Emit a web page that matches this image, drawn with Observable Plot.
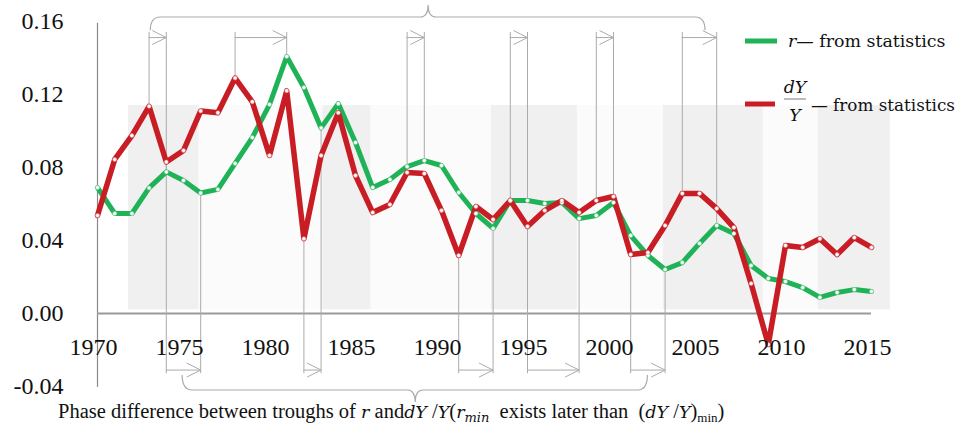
<!DOCTYPE html>
<html><head><meta charset="utf-8">
<script src="https://cdn.jsdelivr.net/npm/d3@7"></script>
<script src="https://cdn.jsdelivr.net/npm/@observablehq/plot@0.6"></script>
<style>
body{margin:0;background:#fff;}
#wrap{position:relative;width:975px;height:430px;overflow:hidden;background:#fff;}
#cap{position:absolute;left:58px;top:401px;font:20.5px/20px "Liberation Serif",serif;white-space:pre;color:#111;}
#cap .m{font-family:"DejaVu Serif",serif;font-style:italic;font-size:17.5px;}
#cap sub{font-size:13px;vertical-align:-4px;line-height:0;}
</style></head><body><div id="wrap"></div>
<script>
// ---- data ----
const years = [1970,1971,1972,1973,1974,1975,1976,1977,1978,1979,1980,1981,1982,1983,1984,1985,1986,1987,1988,1989,1990,1991,1992,1993,1994,1995,1996,1997,1998,1999,2000,2001,2002,2003,2004,2005,2006,2007,2008,2009,2010,2011,2012,2013,2014,2015];
const rValues = [0.0690,0.0548,0.0548,0.0688,0.0776,0.0729,0.0660,0.0680,0.0822,0.0964,0.1145,0.1408,0.1238,0.1017,0.1150,0.0937,0.0690,0.0734,0.0805,0.0838,0.0811,0.0663,0.0548,0.0466,0.0619,0.0619,0.0603,0.0608,0.0520,0.0537,0.0608,0.0427,0.0318,0.0241,0.0279,0.0384,0.0482,0.0438,0.0263,0.0192,0.0175,0.0142,0.0088,0.0115,0.0131,0.0121];
const dyValues = [0.0537,0.0844,0.0975,0.1135,0.0830,0.0893,0.1110,0.1100,0.1290,0.1160,0.0866,0.1220,0.0410,0.0866,0.1100,0.0756,0.0553,0.0597,0.0773,0.0767,0.0564,0.0318,0.0586,0.0515,0.0619,0.0477,0.0564,0.0619,0.0553,0.0619,0.0641,0.0323,0.0334,0.0482,0.0658,0.0658,0.0575,0.0471,0.0164,-0.0170,0.0373,0.0362,0.0410,0.0323,0.0416,0.0362];
const seriesNames = ["r", "dY/Y"];
const xTicks = [1970,1975,1980,1985,1990,1995,2000,2005,2010,2015];
const yTicks = [-0.04,0,0.04,0.08,0.12,0.16];
// peaks of dY/Y -> later peaks of r ; troughs of dY/Y -> later troughs of r
const peakFrom = [1973,1978,1988,1994,1999,2004];
const peakTo = [1974,1981,1989,1995,2000,2006];
const troughFrom = [1974,1982,1991,1995,2001];
const troughTo = [1976,1983,1993,1998,2003];
// shaded periods
const shadeFrom = [1971.8,1983.1,1992.9,2002.9,2011.9];
const shadeTo = [1975.9,1985.9,1997.9,2008.7,2016.1];

// ---- styling / layout constants ----
const GREEN = "#1fb257", RED = "#c81d25", GUIDE = "#ababab";
const shadeTop = 0.114, shadeBottom = 0.002;
const guideTop = 0.154, guideBottom = -0.033;
const arrowTop = 0.1512, arrowBottom = -0.031;
const braces = [
  {x1: 1973.1, x2: 2005.35, xc: 1989.25, y: 0.1622, end: 0.1550, tip: 0.1688},
  {x1: 1974.95, x2: 2002.0, xc: 1988.5, y: -0.0422, end: -0.0340, tip: -0.0488}
];

const rows = [];
years.forEach((yr, i) => rows.push({year: yr, value: rValues[i], series: seriesNames[0]}));
years.forEach((yr, i) => rows.push({year: yr, value: dyValues[i], series: seriesNames[1]}));
const rOf = new Map(years.map((y, i) => [y, rValues[i]]));
const dOf = new Map(years.map((y, i) => [y, dyValues[i]]));
const shades = shadeFrom.map((a, i) => ({a, b: shadeTo[i]}));
const gaps = shadeTo.slice(0, -1).map((a, i) => ({a, b: shadeFrom[i + 1]}));
const peakArrows = peakFrom.map((a, i) => ({a, b: peakTo[i]}));
const troughArrows = troughFrom.map((a, i) => ({a, b: troughTo[i]}));

const chevron = {draw(ctx) { ctx.moveTo(-14, -7); ctx.lineTo(0, 0); ctx.lineTo(-14, 7); }};

function braceMark(b) {
  return (index, scales) => {
    const {x, y} = scales;
    const x1 = x(b.x1), x2 = x(b.x2), xc = x(b.xc), yl = y(b.y), ye = y(b.end), yt = y(b.tip);
    const r = 10, rc = 8;
    const d = `M${x1},${ye} Q${x1},${yl} ${x1 + r},${yl} L${xc - rc},${yl} Q${xc},${yl} ${xc},${yt} Q${xc},${yl} ${xc + rc},${yl} L${x2 - r},${yl} Q${x2},${yl} ${x2},${ye}`;
    return d3.create("svg:path").attr("d", d).attr("fill", "none").attr("stroke", GUIDE).attr("stroke-width", 1.2).node();
  };
}

const FONT = "'Liberation Serif', serif";
const chart = Plot.plot({
  width: 975,
  height: 404,
  marginLeft: 97,
  marginRight: 104,
  marginTop: 21,
  marginBottom: 18,
  x: {domain: [1970, 2015], axis: null},
  y: {domain: [-0.04, 0.16], axis: null},
  style: {fontFamily: FONT, fontSize: "24px", background: "white", overflow: "visible", color: "#111"},
  marks: [
    Plot.rect(gaps, {x1: "a", x2: "b", y1: shadeBottom, y2: shadeTop, fill: "#fbfbfb"}),
    Plot.rect(shades, {x1: "a", x2: "b", y1: shadeBottom, y2: shadeTop, fill: "#f0f0f0"}),
    Plot.ruleX([1970], {y1: -0.0405, y2: 0.159, stroke: "#8a8a8a", strokeWidth: 1.2}),
    Plot.ruleY([0], {x1: 1970, x2: 2015, stroke: "#9a9a9a", strokeWidth: 1.8}),
    // guides for peaks
    Plot.ruleX(peakFrom, {x: d => d, y1: guideTop, y2: d => dOf.get(d), stroke: GUIDE, strokeWidth: 1}),
    Plot.ruleX(peakTo, {x: d => d, y1: guideTop, y2: d => rOf.get(d), stroke: GUIDE, strokeWidth: 1}),
    // guides for troughs
    Plot.ruleX(troughFrom, {x: d => d, y1: d => dOf.get(d), y2: guideBottom, stroke: GUIDE, strokeWidth: 1}),
    Plot.ruleX(troughTo, {x: d => d, y1: d => rOf.get(d), y2: guideBottom, stroke: GUIDE, strokeWidth: 1}),
    // arrows
    Plot.ruleY(peakArrows, {x1: "a", x2: "b", y: arrowTop, stroke: GUIDE, strokeWidth: 1}),
    Plot.ruleY(troughArrows, {x1: "a", x2: "b", y: arrowBottom, stroke: GUIDE, strokeWidth: 1}),
    Plot.dot(peakArrows, {x: "b", y: arrowTop, symbol: chevron, fill: "none", stroke: GUIDE, strokeWidth: 1}),
    Plot.dot(troughArrows, {x: "b", y: arrowBottom, symbol: chevron, fill: "none", stroke: GUIDE, strokeWidth: 1}),
    ...braces.map(braceMark),
    // series
    Plot.line(rows, {filter: d => d.series === seriesNames[0], x: "year", y: "value", stroke: GREEN, strokeWidth: 5, strokeLinejoin: "round"}),
    Plot.line(rows, {filter: d => d.series === seriesNames[1], x: "year", y: "value", stroke: RED, strokeWidth: 5.5, strokeLinejoin: "round"}),
    Plot.dot(rows, {filter: d => d.series === seriesNames[0], x: "year", y: "value", r: 2, fill: "white", stroke: "#7fd39f", strokeWidth: 0.6}),
    Plot.dot(rows, {filter: d => d.series === seriesNames[1], x: "year", y: "value", r: 2, fill: "white", stroke: "#e08a8a", strokeWidth: 0.6}),
    // tick labels
    Plot.axisY({ticks: yTicks, label: null, tickSize: 0, tickPadding: 34, tickFormat: d => d.toFixed(2), fontSize: 24, fontFamily: FONT, fill: "#111"}),
    Plot.text(xTicks, {x: d => d, y: 0, dy: 34, dx: -4, text: d => String(d), fontSize: 24, fontFamily: FONT, fill: "#111"})
  ]
});

document.getElementById("wrap").appendChild(chart);

// legend (overlaid inside the chart area)
const svg = d3.select(chart.tagName.toLowerCase() === "svg" ? chart : chart.querySelector("svg"));
const lg = svg.append("g").attr("font-family", "'DejaVu Serif', serif").attr("font-size", 17.4).attr("fill", "#111").attr("text-anchor", "start");
lg.append("rect").attr("x", 745).attr("y", 38.5).attr("width", 32).attr("height", 5).attr("fill", GREEN);
const t1 = lg.append("text").attr("x", 788).attr("y", 47);
t1.append("tspan").attr("font-style", "italic").text("r");
t1.append("tspan").text("\u2014 from statistics");
lg.append("rect").attr("x", 745).attr("y", 101.5).attr("width", 30).attr("height", 5).attr("fill", RED);
lg.append("text").attr("x", 795).attr("y", 93).attr("text-anchor", "middle").attr("font-style", "italic").text("dY");
lg.append("line").attr("x1", 784).attr("x2", 806).attr("y1", 99).attr("y2", 99).attr("stroke", "#555").attr("stroke-width", 0.8);
lg.append("text").attr("x", 795).attr("y", 121).attr("text-anchor", "middle").attr("font-style", "italic").text("Y");
const t2 = lg.append("text").attr("x", 811).attr("y", 111).attr("font-size", 16.8).text("\u2014 from statistics");

// caption below the chart
const cap = document.createElement("div");
cap.id = "cap";
cap.innerHTML = 'Phase difference between troughs of <i class="m">r</i> and<i class="m">dY</i> /<i class="m">Y</i>(<i class="m">r<sub>min</sub></i>  exists later than  (<i class="m">dY</i> /<i class="m">Y</i>)<sub>min</sub>)';
document.getElementById("wrap").appendChild(cap);
</script>
</body></html>
